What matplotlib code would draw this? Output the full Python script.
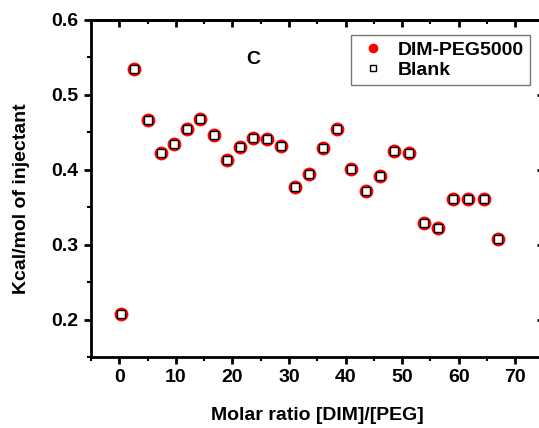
import matplotlib
matplotlib.use("Agg")
import matplotlib.pyplot as plt
from matplotlib.ticker import MultipleLocator

# data
ratio = [0.35, 2.65, 5.1, 7.3, 9.6, 11.95, 14.2, 16.7, 19.1, 21.4, 23.7, 26.1,
         28.6, 31.1, 33.6, 36.0, 38.5, 41.0, 43.6, 46.1, 48.6, 51.2, 53.8, 56.4,
         59.0, 61.7, 64.4, 67.0]
heat = [0.207, 0.534, 0.467, 0.423, 0.435, 0.455, 0.468, 0.447, 0.413, 0.431,
        0.443, 0.441, 0.432, 0.377, 0.394, 0.429, 0.455, 0.401, 0.371, 0.392,
        0.425, 0.422, 0.329, 0.322, 0.361, 0.361, 0.361, 0.307]
blank = heat  # blank markers sit on top of the sample ones

plt.rcParams['font.family'] = ['Liberation Sans', 'DejaVu Sans']
plt.rcParams['font.weight'] = 'bold'
FS = 14

fig = plt.figure(figsize=(5.39, 4.28), dpi=100)
ax = fig.add_axes([91 / 539, 71 / 428, 452.5 / 539, 337 / 428])

ax.plot(ratio, heat, 'o', color='red', markersize=10, markeredgewidth=0,
        label='DIM-PEG5000')
ax.plot(ratio, blank, 's', markerfacecolor='white', markeredgecolor='black',
        markersize=5.6, markeredgewidth=1.0, label='Blank')

ax.set_xlim(-5, 75)
ax.set_ylim(0.15, 0.6)
ax.xaxis.set_major_locator(MultipleLocator(10))
ax.xaxis.set_minor_locator(MultipleLocator(5))
ax.yaxis.set_major_locator(MultipleLocator(0.1))
ax.yaxis.set_minor_locator(MultipleLocator(0.05))

for s in ax.spines.values():
    s.set_linewidth(2)

ax.tick_params(which='major', direction='out', length=5, width=2,
               labelsize=FS, pad=4)
ax.tick_params(which='minor', direction='out', length=3, width=1.5)
# top/right ticks point inwards
axt = ax.secondary_xaxis('top')
axt.xaxis.set_major_locator(MultipleLocator(10))
axt.xaxis.set_minor_locator(MultipleLocator(5))
axt.tick_params(which='major', direction='in', length=5, width=2, labeltop=False)
axt.tick_params(which='minor', direction='in', length=3, width=1.5)
axr = ax.secondary_yaxis('right')
axr.yaxis.set_major_locator(MultipleLocator(0.1))
axr.yaxis.set_minor_locator(MultipleLocator(0.05))
axr.tick_params(which='major', direction='in', length=5, width=2, labelright=False)
axr.tick_params(which='minor', direction='in', length=3, width=1.5)
for s in axt.spines.values():
    s.set_linewidth(2)
for s in axr.spines.values():
    s.set_visible(False)

for lab in ax.get_xticklabels() + ax.get_yticklabels():
    lab.set_fontweight('bold')

ax.set_xlabel('Molar ratio [DIM]/[PEG]', fontsize=FS, fontweight='bold',
              labelpad=15)
ax.set_ylabel('Kcal/mol of injectant', fontsize=FS, fontweight='bold',
              labelpad=8)
ax.yaxis.set_label_coords(-0.135, 0.47)

ax.text(23.6, 0.547, 'C', fontsize=FS, fontweight='bold',
        ha='center', va='center')

leg = ax.legend(loc='upper right', bbox_to_anchor=(0.97, 0.955),
                fontsize=FS, frameon=True, fancybox=False,
                markerscale=0.7, handletextpad=0.5, borderpad=0.3,
                labelspacing=0.15, handlelength=1.6, borderaxespad=0)
leg.get_frame().set_edgecolor('#555555')
leg.get_frame().set_linewidth(1)
for t in leg.get_texts():
    t.set_fontweight('bold')

fig.savefig('out.png', dpi=100)
